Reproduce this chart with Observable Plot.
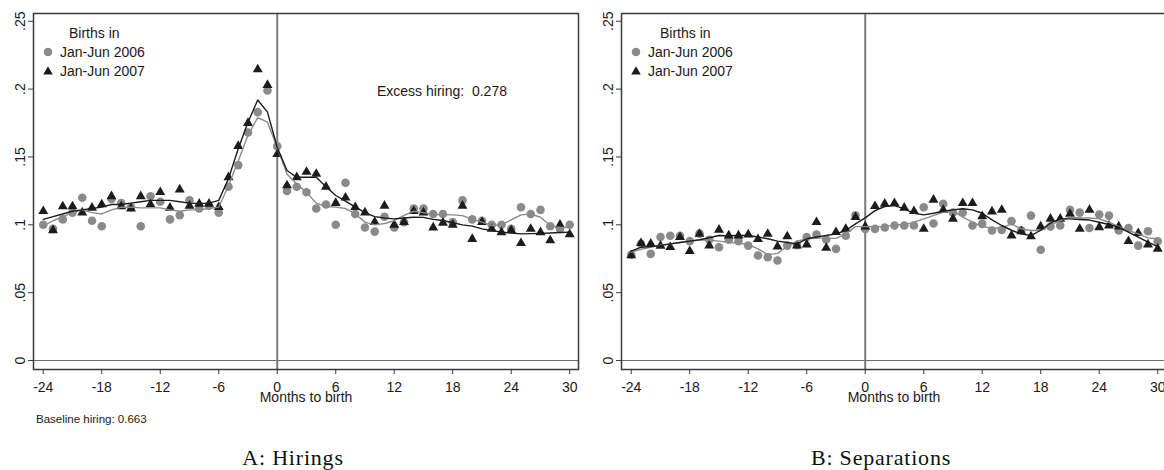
<!DOCTYPE html>
<html><head><meta charset="utf-8">
<script src="https://cdn.jsdelivr.net/npm/d3@7"></script>
<script src="https://cdn.jsdelivr.net/npm/@observablehq/plot@0.6"></script>
<style>
body{margin:0;background:#fff;}
#wrap{position:relative;width:1164px;height:470px;overflow:hidden;font-family:"Liberation Sans",Arial,sans-serif;color:#1a1a1a;background:#fff}
.panel{position:absolute;top:0;width:588px;height:470px}
.panel svg{position:absolute;left:0;top:0}
.cap{position:absolute;top:446px;left:0;width:586px;text-align:center;font-family:"Liberation Serif",serif;font-size:22px;line-height:24px;letter-spacing:0.8px;color:#111}
.t{position:absolute;font-size:14px;line-height:16px;white-space:pre}
.sym{position:absolute;width:12px;height:12px}
</style>
</head><body>
<div id="wrap">
  <div class="panel" id="pA"></div>
  <div class="panel" id="pB" style="left:588px"></div>
</div>
<script>
const months = [-24,-23,-22,-21,-20,-19,-18,-17,-16,-15,-14,-13,-12,-11,-10,-9,-8,-7,-6,-5,-4,-3,-2,-1,0,1,2,3,4,5,6,7,8,9,10,11,12,13,14,15,16,17,18,19,20,21,22,23,24,25,26,27,28,29,30];
const xTicks = [-24,-18,-12,-6,0,6,12,18,24,30];
const yTicks = [0,0.05,0.1,0.15,0.2,0.25];
const yTickLabels = ["0",".05",".1",".15",".2",".25"];
const seriesNames = ["Jan-Jun 2006","Jan-Jun 2007"];

// Panel A: Hirings
const hire2006 = [0.100,0.097,0.104,0.109,0.120,0.103,0.099,0.119,0.116,0.113,0.099,0.121,0.117,0.104,0.107,0.118,0.112,0.114,0.109,0.128,0.144,0.168,0.183,0.199,0.158,0.125,0.128,0.124,0.112,0.115,0.100,0.131,0.108,0.098,0.095,0.106,0.098,0.102,0.112,0.112,0.108,0.108,0.102,0.118,0.104,0.103,0.100,0.100,0.097,0.113,0.108,0.111,0.099,0.097,0.100];
const hire2007 = [0.110,0.096,0.1135,0.1135,0.109,0.1125,0.115,0.121,0.1135,0.112,0.121,0.115,0.124,0.1125,0.126,0.114,0.1155,0.1155,0.113,0.135,0.158,0.175,0.2145,0.203,0.152,0.129,0.135,0.139,0.1375,0.128,0.116,0.120,0.113,0.109,0.102,0.114,0.100,0.102,0.110,0.109,0.098,0.1015,0.100,0.114,0.0895,0.102,0.097,0.0945,0.096,0.0865,0.097,0.0945,0.0885,0.100,0.093];
const hireSmooth2006 = [0.099,0.103,0.106,0.109,0.111,0.109,0.108,0.111,0.113,0.113,0.1125,0.1125,0.1125,0.111,0.110,0.111,0.111,0.112,0.113,0.129,0.147,0.166,0.179,0.1756,0.157,0.1375,0.130,0.124,0.116,0.1135,0.113,0.112,0.108,0.102,0.100,0.101,0.103,0.107,0.110,0.109,0.1076,0.1075,0.1073,0.1068,0.104,0.102,0.0995,0.100,0.1037,0.1073,0.108,0.1056,0.0995,0.098,0.098];
const hireSmooth2007 = [0.104,0.106,0.108,0.110,0.111,0.112,0.113,0.115,0.115,0.116,0.117,0.118,0.118,0.118,0.117,0.116,0.1157,0.116,0.118,0.134,0.156,0.1756,0.192,0.183,0.157,0.140,0.135,0.135,0.135,0.128,0.1216,0.1174,0.113,0.109,0.106,0.105,0.1044,0.105,0.1056,0.1055,0.104,0.1032,0.1015,0.100,0.099,0.097,0.0958,0.0946,0.094,0.0933,0.0935,0.0937,0.094,0.0943,0.0945];

// Panel B: Separations
const sep2006 = [0.078,0.086,0.0786,0.091,0.092,0.092,0.088,0.0935,0.089,0.0835,0.089,0.088,0.0847,0.0774,0.0761,0.0737,0.0847,0.085,0.091,0.0928,0.0892,0.0823,0.092,0.107,0.097,0.097,0.098,0.0995,0.0995,0.0995,0.113,0.101,0.1155,0.109,0.109,0.0995,0.1007,0.0958,0.0963,0.1027,0.096,0.1068,0.0816,0.0987,0.0995,0.111,0.109,0.0977,0.1076,0.1068,0.0958,0.0977,0.0847,0.0953,0.0879];
const sep2007 = [0.0774,0.0865,0.086,0.0845,0.0835,0.0909,0.0806,0.0933,0.0847,0.0963,0.0921,0.0921,0.0928,0.0894,0.0933,0.084,0.0914,0.0847,0.0855,0.1019,0.083,0.0946,0.097,0.1056,0.0987,0.1137,0.1155,0.1159,0.1125,0.110,0.097,0.1184,0.111,0.1044,0.1159,0.1159,0.1063,0.1098,0.111,0.0921,0.0951,0.0914,0.0987,0.1044,0.1044,0.108,0.097,0.111,0.0982,0.0995,0.0987,0.0879,0.0938,0.0855,0.0823];
const sepSmooth2006 = [0.080,0.082,0.0835,0.085,0.086,0.087,0.088,0.0888,0.0889,0.088,0.0872,0.0865,0.0855,0.0823,0.078,0.079,0.084,0.0879,0.0897,0.0904,0.090,0.090,0.0933,0.0987,0.0987,0.0987,0.0987,0.100,0.100,0.102,0.1044,0.1068,0.1093,0.1105,0.1056,0.1019,0.0987,0.0977,0.0977,0.1007,0.097,0.0958,0.0958,0.0995,0.1032,0.1056,0.105,0.105,0.1044,0.1019,0.0987,0.0958,0.0933,0.0904,0.0897];
const sepSmooth2007 = [0.0806,0.0835,0.084,0.0847,0.086,0.087,0.088,0.089,0.0905,0.0921,0.092,0.0921,0.0921,0.091,0.0897,0.088,0.087,0.086,0.0897,0.091,0.0921,0.0933,0.0958,0.1007,0.1051,0.1105,0.1135,0.1142,0.1118,0.1085,0.1073,0.1085,0.110,0.111,0.1118,0.111,0.1085,0.1037,0.0995,0.096,0.0933,0.0921,0.096,0.1012,0.1044,0.1044,0.1039,0.1035,0.1019,0.1002,0.0982,0.0946,0.0909,0.0872,0.084];

const GRAY = "#8a8a8a", BLACK = "#1c1c1c";

function makePanel(s06, s07, l06, l07) {
  const c06 = months.map((m,i)=>({m, v:s06[i]}));
  const c07 = months.map((m,i)=>({m, v:s07[i]}));
  const a06 = months.map((m,i)=>({m, v:l06[i]}));
  const a07 = months.map((m,i)=>({m, v:l07[i]}));
  return Plot.plot({
    width: 588, height: 410,
    marginTop: 13, marginBottom: 41, marginLeft: 33, marginRight: 10,
    x: {domain: [-25, 30.9]},
    y: {domain: [-0.0066, 0.2557]},
    style: {fontFamily: "'Liberation Sans', Arial, sans-serif", fontSize: "14px", color: "#1a1a1a", background: "white", overflow: "visible"},
    marks: [
      Plot.ruleY([0], {stroke: "#6a6a6a", strokeWidth: 1}),
      Plot.ruleX([0], {stroke: "#7a7a7a", strokeWidth: 2}),
      Plot.dot(c06, {x: "m", y: "v", r: 4.3, fill: GRAY, symbol: "circle"}),
      Plot.dot(c07, {x: "m", y: "v", r: 3.7, fill: BLACK, symbol: "triangle"}),
      Plot.line(a06, {x: "m", y: "v", stroke: GRAY, strokeWidth: 1.4}),
      Plot.line(a07, {x: "m", y: "v", stroke: BLACK, strokeWidth: 1.4}),
      Plot.frame({stroke: "#3a3a3a", strokeWidth: 1.5}),
      Plot.axisX({ticks: xTicks, tickSize: 5, tickPadding: 8, tickFormat: d => String(d), label: null, fontSize: 14, stroke: "#3a3a3a"}),
      Plot.axisY({ticks: yTicks, tickSize: 5, tickFormat: () => "", label: null, stroke: "#3a3a3a"}),
      Plot.text(yTicks, {y: d => d, text: (d, i) => yTickLabels[i], frameAnchor: "left", dx: -13, rotate: -90, textAnchor: "middle", fontSize: 14, fill: "#1a1a1a"}),
      Plot.text(["Months to birth"], {text: d => d, frameAnchor: "bottom", dy: 32, fontSize: 14, fill: "#1a1a1a"})
    ]
  });
}

function addLegend(el, birthsLeft) {
  el.insertAdjacentHTML("beforeend",
    `<div class="t" style="left:${birthsLeft}px;top:25px">Births in</div>
     <svg class="sym" style="left:42px;top:46px" viewBox="0 0 12 12"><circle cx="6" cy="6" r="4.3" fill="${GRAY}"/></svg>
     <div class="t" style="left:60px;top:44px">${seriesNames[0]}</div>
     <svg class="sym" style="left:42px;top:65px" viewBox="0 0 12 12"><path d="M6 1.2 L10.8 9.6 L1.2 9.6 Z" fill="${BLACK}"/></svg>
     <div class="t" style="left:60px;top:63px">${seriesNames[1]}</div>`);
}

const pA = document.getElementById("pA");
const pB = document.getElementById("pB");
pA.appendChild(makePanel(hire2006, hire2007, hireSmooth2006, hireSmooth2007));
pB.appendChild(makePanel(sep2006, sep2007, sepSmooth2006, sepSmooth2007));
addLegend(pA, 69);
addLegend(pB, 72);
pA.insertAdjacentHTML("beforeend",
  `<div class="t" style="left:377px;top:83px">Excess hiring:  0.278</div>
   <div class="t" style="left:36px;top:412px;font-size:11.5px;line-height:14px">Baseline hiring: 0.663</div>
   <div class="cap">A: Hirings</div>`);
pB.insertAdjacentHTML("beforeend", `<div class="cap">B: Separations</div>`);
</script>
</body></html>
